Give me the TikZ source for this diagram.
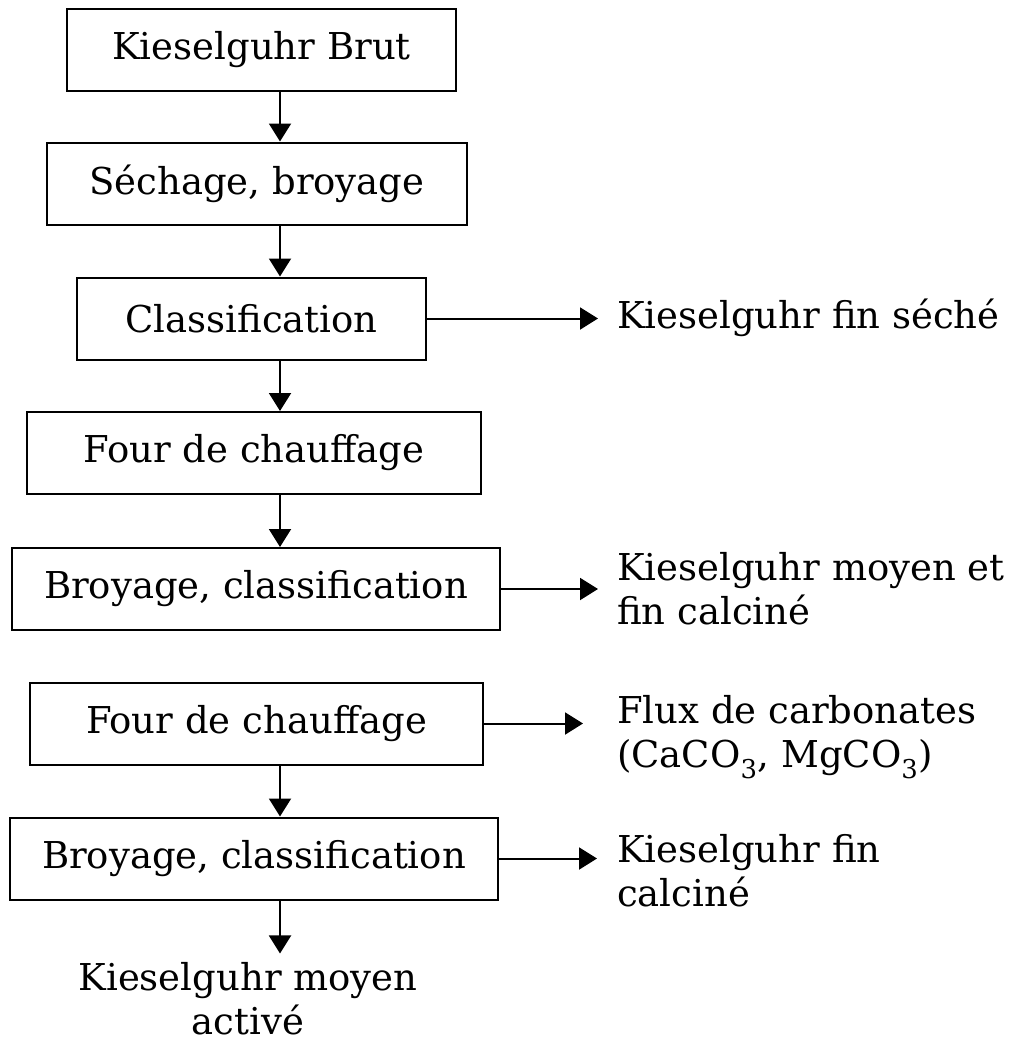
\documentclass[tikz,border=0pt]{standalone}
\usepackage{fontspec}
\setmainfont{DejaVu Serif}
\usetikzlibrary{arrows.meta}
\begin{document}
\begin{tikzpicture}[x=1pt,y=-1pt,
  every node/.style={font=\fontsize{37}{44}\selectfont},
  box/.style={draw, line width=2pt, inner sep=0pt, minimum height=82pt},
  lbl/.style={inner sep=0pt, align=left, anchor=west},
  arr/.style={line width=2pt, -{Triangle[width=22pt,length=18pt]}}]
\useasboundingbox[fill=white] (0,0) rectangle (1014,1044);
\coordinate (ax) at (280,0);
\node[box, minimum width=389pt] (b1) at (261.5,50) {Kieselguhr Brut};
\node[box, minimum width=420pt] (b2) at (257,183.5) {Séchage, broyage};
\node[box, minimum width=349pt] (b3) at (251.5,318.5) {Classification};
\node[box, minimum width=454pt] (b4) at (254,453) {Four de chauffage};
\node[box, minimum width=488pt] (b5) at (256,589) {Broyage, classification};
\node[box, minimum width=453pt] (b6) at (256.5,723.5) {Four de chauffage};
\node[box, minimum width=488pt] (b7) at (254,858.5) {Broyage, classification};
\node[lbl] (r3) at (617,318) {Kieselguhr fin séché};
\node[lbl] (r5) at (617,589) {Kieselguhr moyen et\\fin calciné};
\node[lbl] (r6) at (617,737) {Flux de carbonates\\(CaCO\textsubscript{3}, MgCO\textsubscript{3})};
\node[lbl] (r7) at (617,871) {Kieselguhr fin\\calciné};
\node[inner sep=0pt, align=center] (out) at (248,999) {Kieselguhr moyen\\activé};
\draw[arr] (b1.south -| ax) -- (b2.north -| ax);
\draw[arr] (b2.south -| ax) -- (b3.north -| ax);
\draw[arr] (b3.south -| ax) -- (b4.north -| ax);
\draw[arr] (b4.south -| ax) -- (b5.north -| ax);
\draw[arr] (b6.south -| ax) -- (b7.north -| ax);
\draw[arr, shorten >=9pt] (b7.south -| ax) -- (out.north -| ax);
\draw[arr, shorten >=19pt] (b3.east) -- (b3.east -| r3.west);
\draw[arr, shorten >=19pt] (b5.east) -- (b5.east -| r5.west);
\draw[arr, shorten >=34pt] (b6.east) -- (b6.east -| r6.west);
\draw[arr, shorten >=20pt] (b7.east) -- (b7.east -| r7.west);
\end{tikzpicture}
\end{document}
